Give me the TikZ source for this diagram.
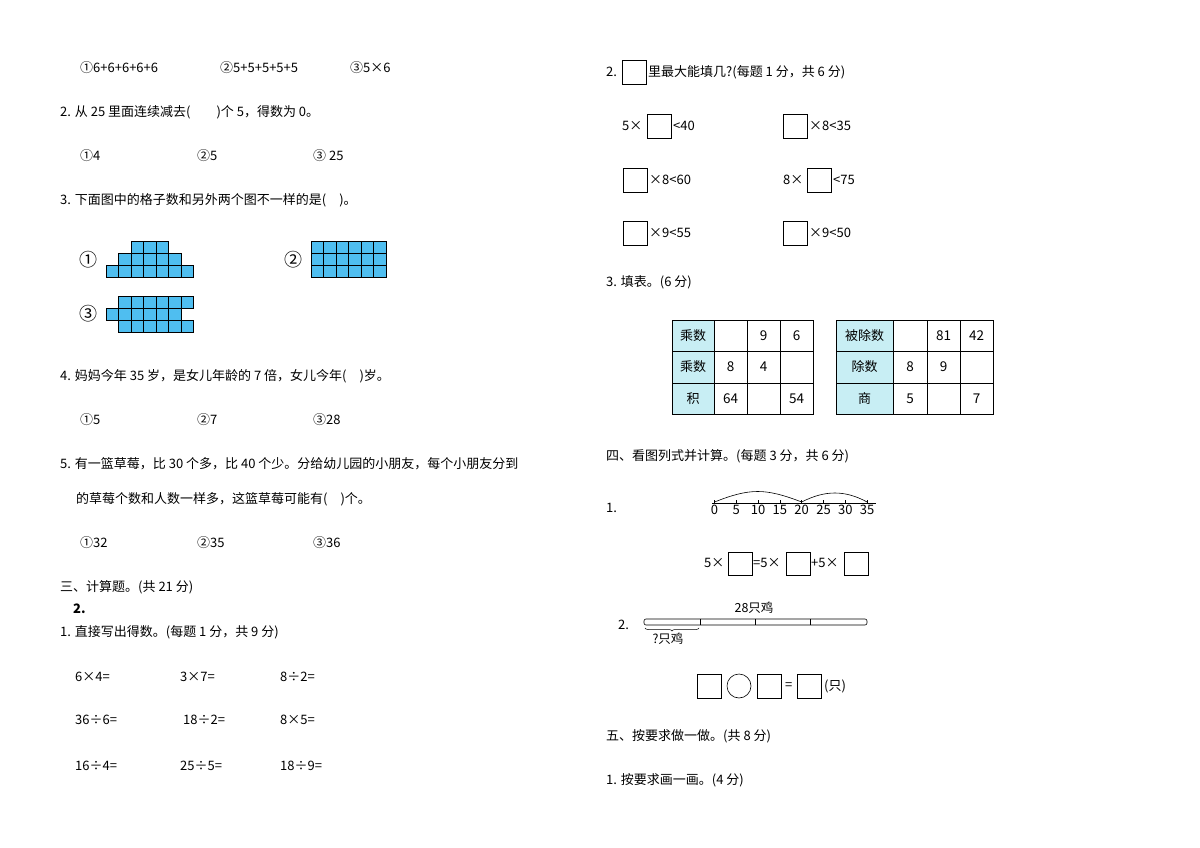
\documentclass[tikz,border=0pt]{standalone}
\usepackage{fontspec}
\setmainfont{Noto Sans CJK SC}
\usetikzlibrary{decorations.pathreplacing}
\definecolor{cellblue}{RGB}{79,190,240}
\definecolor{hdcyan}{RGB}{200,238,244}
\begin{document}
\begin{tikzpicture}[x=1pt,y=-1pt,
  t/.style={anchor=west,inner sep=0pt,font=\fontsize{13}{14}\selectfont},
  cell/.style={draw=black,fill=cellblue,line width=0.7pt},
  bx/.style={draw=black,line width=0.6pt},
  hd/.style={fill=hdcyan}]
\useasboundingbox (0,0) rectangle (1200,848);
% left column
\node[t] (a1) at (80,68) {①6+6+6+6+6};
\node[t] (a2) at (220,68) {②5+5+5+5+5};
\node[t] (a3) at (350,68) {③5×6};
\node[t] (q2) at (60,112) {2. 从 25 里面连续减去(\hspace{2em})个 5，得数为 0。};
\node[t] (b1) at (80,156) {①4};
\node[t] (b2) at (197,156) {②5};
\node[t] (b3) at (313,156) {③ 25};
\node[t] (q3) at (60,200) {3. 下面图中的格子数和另外两个图不一样的是(\hspace{1em})。};
\node[t,font=\fontsize{18}{18}\selectfont] (l1) at (79,260) {①};
\node[t,font=\fontsize{18}{18}\selectfont] (l2) at (284,260) {②};
\node[t,font=\fontsize{18}{18}\selectfont] (l3) at (79,314) {③};
\foreach \i in {0,1,2} \fill[cell] (131+12.5*\i,241) rectangle ++(12.5,12);
\foreach \i in {0,...,4} \fill[cell] (118.5+12.5*\i,253) rectangle ++(12.5,12);
\foreach \i in {0,...,6} \fill[cell] (106+12.5*\i,265) rectangle ++(12.5,12);
\foreach \i in {0,...,5} \foreach \j in {0,1,2} \fill[cell] (311+12.5*\i,241+12*\j) rectangle ++(12.5,12);
\foreach \i in {0,...,5} \fill[cell] (118.5+12.5*\i,296) rectangle ++(12.5,12);
\foreach \i in {0,...,5} \fill[cell] (106+12.5*\i,308) rectangle ++(12.5,12);
\foreach \i in {0,...,5} \fill[cell] (118.5+12.5*\i,320) rectangle ++(12.5,12);
\node[t] (q4) at (60,376) {4. 妈妈今年 35 岁，是女儿年龄的 7 倍，女儿今年(\hspace{1em})岁。};
\node[t] (c1) at (80,420) {①5};
\node[t] (c2) at (197,420) {②7};
\node[t] (c3) at (313,420) {③28};
\node[t] (q5) at (60,464) {5. 有一篮草莓，比 30 个多，比 40 个少。分给幼儿园的小朋友，每个小朋友分到};
\node[t] (q5b) at (76,499) {的草莓个数和人数一样多，这篮草莓可能有(\hspace{1em})个。};
\node[t] (d1) at (80,543) {①32};
\node[t] (d2) at (197,543) {②35};
\node[t] (d3) at (313,543) {③36};
\node[t] (s3) at (60,587) {三、计算题。(共 21 分)};
\node[t,font=\fontsize{13}{14}\selectfont\bfseries] (n2) at (73,609) {2.};
\node[t] (s31) at (60,632) {1. 直接写出得数。(每题 1 分，共 9 分)};
\node[t] (e1) at (75,677) {6×4=};
\node[t] (e2) at (180,677) {3×7=};
\node[t] (e3) at (280,677) {8÷2=};
\node[t] (e4) at (75,720) {36÷6=};
\node[t] (e5) at (183,720) {18÷2=};
\node[t] (e6) at (280,720) {8×5=};
\node[t] (e7) at (75,766) {16÷4=};
\node[t] (e8) at (180,766) {25÷5=};
\node[t] (e9) at (280,766) {18÷9=};
% right column
\node[t] (r2) at (606,72) {2.};
\draw[bx] (622,60) rectangle (646,84);
\node[t] (r2b) at (648,72) {里最大能填几?(每题 1 分，共 6 分)};
\node[t] (f1) at (622,126) {5×};
\draw[bx] (647,114) rectangle (671,138);
\node[t] (f1b) at (673,126) {<40};
\draw[bx] (783,114) rectangle (807,138);
\node[t] (f2) at (809,126) {×8<35};
\draw[bx] (623,168) rectangle (647,192);
\node[t] (f3) at (649,180) {×8<60};
\node[t] (f4) at (783,180) {8×};
\draw[bx] (807,168) rectangle (831,192);
\node[t] (f4b) at (833,180) {<75};
\draw[bx] (623,221) rectangle (647,245);
\node[t] (f5) at (649,233) {×9<55};
\draw[bx] (783,221) rectangle (807,245);
\node[t] (f6) at (809,233) {×9<50};
\node[t] (r3) at (606,282) {3. 填表。(6 分)};
% table 1
\fill[hd] (672,320) rectangle (714,414);
\draw[line width=0.6pt] (672,320) rectangle (813,414);
\foreach \x in {714,747,780} \draw[line width=0.6pt] (\x,320) -- (\x,414);
\foreach \y in {351,383} \draw[line width=0.6pt] (672,\y) -- (813,\y);
\node[font=\fontsize{13}{14}\selectfont] (t11) at (693,335.5) {乘数};
\node[font=\fontsize{13}{14}\selectfont] (t21) at (693,367) {乘数};
\node[font=\fontsize{13}{14}\selectfont] (t31) at (693,398.5) {积};
\node[font=\fontsize{13.5}{14}\selectfont] (t13) at (763.5,335.5) {9};
\node[font=\fontsize{13.5}{14}\selectfont] (t14) at (796.5,335.5) {6};
\node[font=\fontsize{13.5}{14}\selectfont] (t22) at (730.5,367) {8};
\node[font=\fontsize{13.5}{14}\selectfont] (t23) at (763.5,367) {4};
\node[font=\fontsize{13.5}{14}\selectfont] (t32) at (730.5,398.5) {64};
\node[font=\fontsize{13.5}{14}\selectfont] (t34) at (796.5,398.5) {54};
% table 2
\fill[hd] (836,320) rectangle (893,414);
\draw[line width=0.6pt] (836,320) rectangle (993,414);
\foreach \x in {893,927,960} \draw[line width=0.6pt] (\x,320) -- (\x,414);
\foreach \y in {351,383} \draw[line width=0.6pt] (836,\y) -- (993,\y);
\node[font=\fontsize{13}{14}\selectfont] (u11) at (864.5,335.5) {被除数};
\node[font=\fontsize{13}{14}\selectfont] (u21) at (864.5,367) {除数};
\node[font=\fontsize{13}{14}\selectfont] (u31) at (864.5,398.5) {商};
\node[font=\fontsize{13.5}{14}\selectfont] (u13) at (943.5,335.5) {81};
\node[font=\fontsize{13.5}{14}\selectfont] (u14) at (976.5,335.5) {42};
\node[font=\fontsize{13.5}{14}\selectfont] (u22) at (910,367) {8};
\node[font=\fontsize{13.5}{14}\selectfont] (u23) at (943.5,367) {9};
\node[font=\fontsize{13.5}{14}\selectfont] (u32) at (910,398.5) {5};
\node[font=\fontsize{13.5}{14}\selectfont] (u34) at (976.5,398.5) {7};
\node[t] (s4) at (606,456) {四、看图列式并计算。(每题 3 分，共 6 分)};
\node[t] (p1) at (606,508) {1.};
% number line
\coordinate (nl0) at (712,503);
\coordinate (nl1) at (876,503);
\draw[line width=0.6pt] (nl0) -- (nl1);
\foreach \k/\v in {0/0,1/5,2/10,3/15,4/20,5/25,6/30,7/35} {
  \draw[line width=0.5pt] (714.5+21.8*\k,503) -- ++(0,-3);
  \node[font=\fontsize{13}{13}\selectfont,inner sep=0pt] (nlab\k) at (714.5+21.8*\k,510) {\v};
}
\draw[line width=0.6pt] (714.5,502) .. controls (750,488) and (765,488) .. (801.7,502);
\draw[line width=0.6pt] (801.7,502) .. controls (825,490) and (845,490) .. (867.1,502);
\node[t] (g1) at (704,563) {5×};
\draw[bx] (728,552) rectangle (752,575);
\node[t] (g2) at (753,563) {=5×};
\draw[bx] (786,552) rectangle (810,575);
\node[t] (g3) at (811,563) {+5×};
\draw[bx] (844,552) rectangle (868,575);
\node[t] (p2) at (618,625) {2.};
\draw[line width=0.6pt,rounded corners=2pt] (644,619) rectangle (867,625);
\foreach \x in {700,755,810} \draw[line width=0.6pt] (\x,619) -- (\x,625);
\node[font=\fontsize{12.5}{13}\selectfont,inner sep=0pt] (lb1) at (754,608) {28只鸡};
\draw[line width=0.5pt,decorate,decoration={brace,amplitude=3pt,mirror}] (645,628) -- (699,628);
\node[font=\fontsize{12.5}{13}\selectfont,inner sep=0pt] (lb2) at (668,639) {?只鸡};
\draw[bx] (697,674) rectangle (721,698);
\node[draw,circle,minimum size=24pt,inner sep=0pt,line width=0.6pt] (ci) at (739,686) {};
\draw[bx] (757,674) rectangle (781,698);
\node[t] (eq) at (785,686) {=};
\draw[bx] (797,674) rectangle (821,698);
\node[t] (zhi) at (824,686) {(只)};
\node[t] (s5) at (606,736) {五、按要求做一做。(共 8 分)};
\node[t] (s51) at (606,780) {1. 按要求画一画。(4 分)};
\end{tikzpicture}
\end{document}
